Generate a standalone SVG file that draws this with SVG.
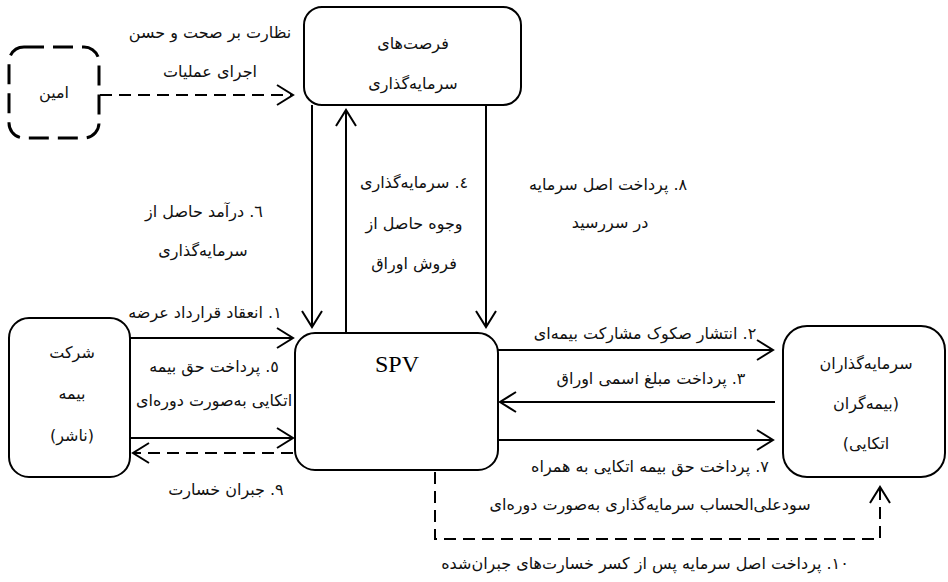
<svg xmlns="http://www.w3.org/2000/svg" width="948" height="582" viewBox="0 0 948 582">
<style>
.box{fill:#fff;stroke:#000;stroke-width:2}
.dbox{fill:#fff;stroke:#000;stroke-width:3;stroke-dasharray:20 9}
.conn{fill:none;stroke:#000;stroke-width:2}
.dash{stroke-dasharray:12 7}
.t{font-family:"DejaVu Sans","Noto Sans",sans-serif;font-size:16px;fill:#111;text-anchor:middle;dominant-baseline:central}
.lat{font-family:"Liberation Serif",serif;font-size:24px;fill:#000;text-anchor:middle;dominant-baseline:central}
</style>
<defs>
<marker id="ah" viewBox="-18 -12 20 24" refX="0" refY="0" markerWidth="20" markerHeight="24" markerUnits="userSpaceOnUse" orient="auto">
<path d="M-16,-10 L0,0 L-16,10" fill="none" stroke="#000" stroke-width="2"/>
</marker>
</defs>
<g id="connectors">
<path class="conn dash" d="M100,95 H293" marker-end="url(#ah)"/>
<path class="conn" d="M312,105 V327" marker-end="url(#ah)"/>
<path class="conn" d="M346,333 V110" marker-end="url(#ah)"/>
<path class="conn" d="M486,105 V327" marker-end="url(#ah)"/>
<path class="conn" d="M130,338 H293" marker-end="url(#ah)"/>
<path class="conn" d="M130,438 H293" marker-end="url(#ah)"/>
<path class="conn dash" d="M293,453 H133" marker-end="url(#ah)"/>
<path class="conn" d="M498,350 H773" marker-end="url(#ah)"/>
<path class="conn" d="M775,402 H500" marker-end="url(#ah)"/>
<path class="conn" d="M498,440 H773" marker-end="url(#ah)"/>
<path class="conn dash" d="M435,472 V539 H880 V487" marker-end="url(#ah)"/>
<g direction="rtl">
<text class="t" x="210" y="32">نظارت بر صحت و حسن</text>
<text class="t" x="210" y="71">اجرای عملیات</text>
<text class="t" x="414" y="182">٤. سرمایه‌گذاری</text>
<text class="t" x="414" y="223">وجوه حاصل از</text>
<text class="t" x="414" y="263">فروش اوراق</text>
<text class="t" x="204" y="211">٦. درآمد حاصل از</text>
<text class="t" x="203" y="250">سرمایه‌گذاری</text>
<text class="t" x="608" y="184">٨. پرداخت اصل سرمایه</text>
<text class="t" x="610" y="222">در سررسید</text>
<text class="t" x="205" y="312">١. انعقاد قرارداد عرضه</text>
<text class="t" x="214" y="366">٥. پرداخت حق بیمه</text>
<text class="t" x="214" y="400">اتکایی به‌صورت دوره‌ای</text>
<text class="t" x="226" y="489">٩. جبران خسارت</text>
<text class="t" x="645" y="333">٢. انتشار صکوک مشارکت بیمه‌ای</text>
<text class="t" x="651" y="378">٣. پرداخت مبلغ اسمی اوراق</text>
<text class="t" x="650" y="466">٧. پرداخت حق بیمه اتکایی به همراه</text>
<text class="t" x="650" y="504">سودعلی‌الحساب سرمایه‌گذاری به‌صورت دوره‌ای</text>
<text class="t" x="645" y="563">١٠. پرداخت اصل سرمایه پس از کسر خسارت‌های جبران‌شده</text>
</g>
</g>
<g id="amin">
<rect class="dbox" x="9" y="47" width="90" height="91" rx="15"/>
<text class="t" x="54" y="92" direction="rtl">امین</text>
</g>
<g id="investment-opportunities">
<rect class="box" x="304" y="7" width="217" height="98" rx="18"/>
<text class="t" x="413" y="43" direction="rtl">فرصت‌های</text>
<text class="t" x="413" y="83" direction="rtl">سرمایه‌گذاری</text>
</g>
<g id="insurance-company">
<rect class="box" x="9" y="318" width="121" height="159" rx="20"/>
<text class="t" x="72" y="352" direction="rtl">شرکت</text>
<text class="t" x="72" y="393" direction="rtl">بیمه</text>
<text class="t" x="72" y="435" direction="rtl">(ناشر)</text>
</g>
<g id="spv">
<rect class="box" x="295" y="333" width="203" height="137" rx="20"/>
<text class="lat" x="397" y="364">SPV</text>
</g>
<g id="investors">
<rect class="box" x="783" y="326" width="162" height="151" rx="24"/>
<text class="t" x="866" y="363" direction="rtl">سرمایه‌گذاران</text>
<text class="t" x="866" y="403" direction="rtl">(بیمه‌گران</text>
<text class="t" x="866" y="443" direction="rtl">اتکایی)</text>
</g>
</svg>
